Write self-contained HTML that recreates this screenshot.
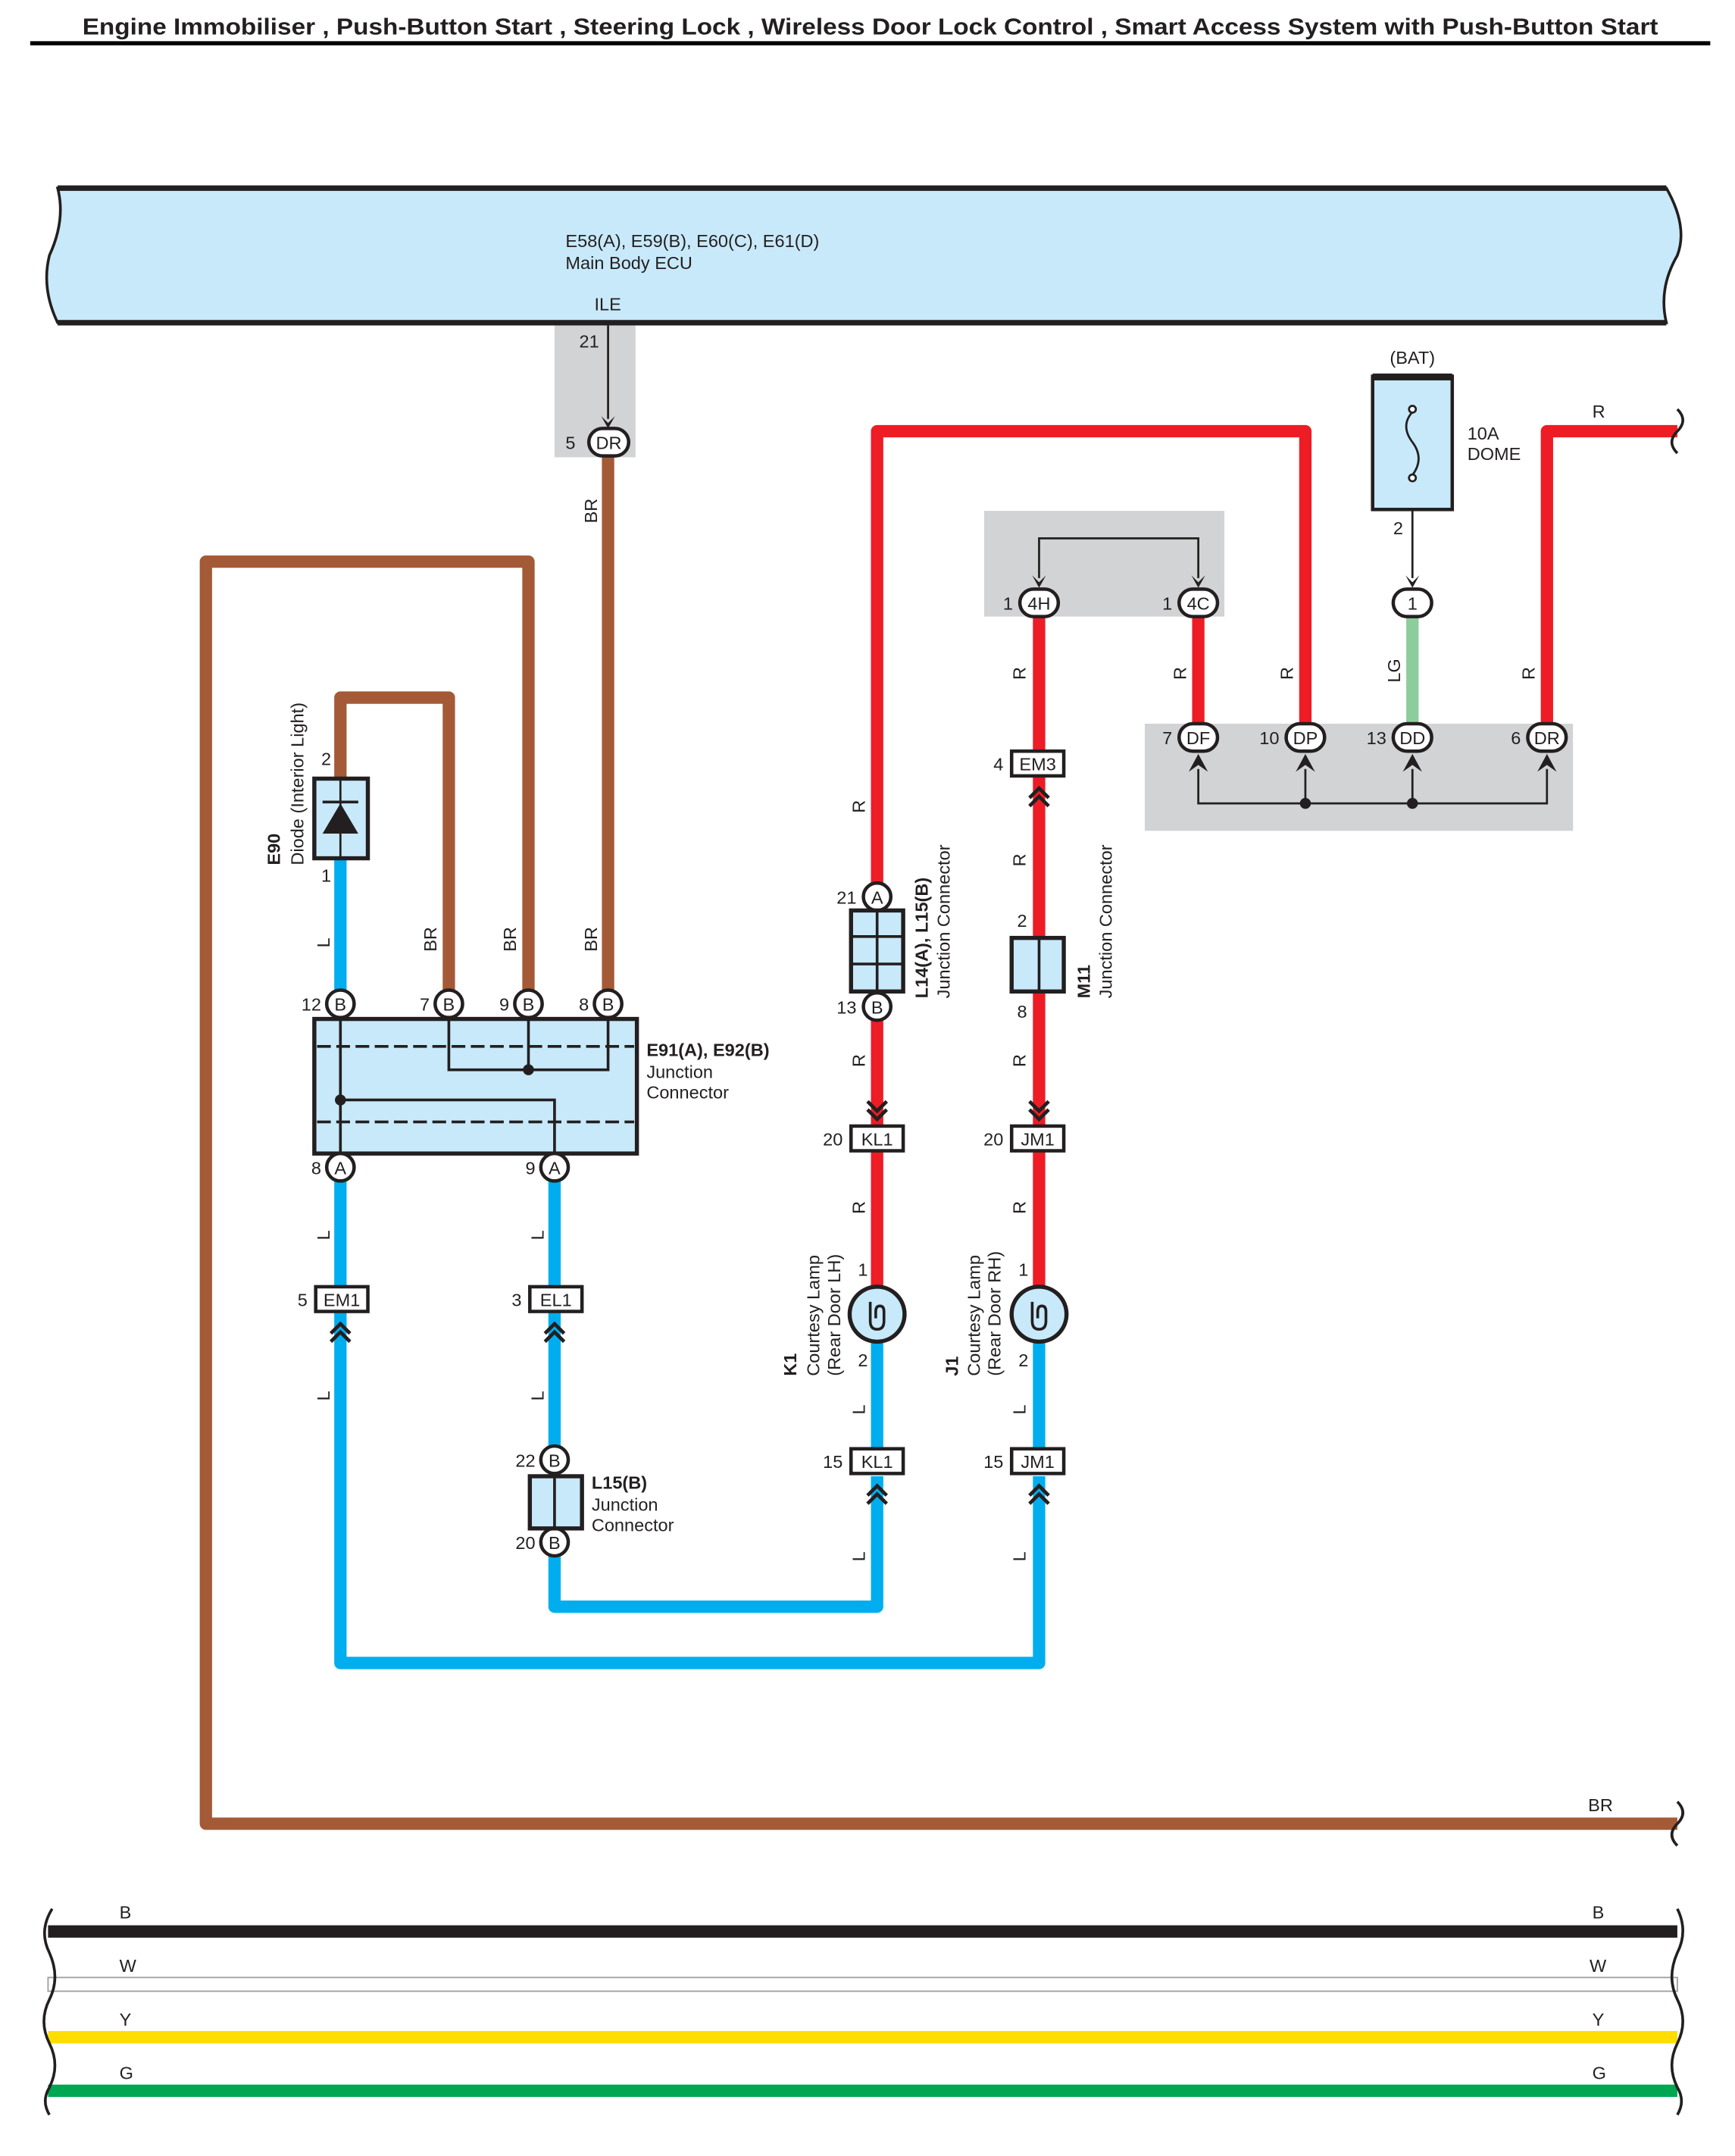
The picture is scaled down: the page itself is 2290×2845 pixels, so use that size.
<!DOCTYPE html>
<html><head><meta charset="utf-8"><style>html,body{margin:0;padding:0;background:#fff}svg{display:block}text{font-family:"Liberation Sans",Arial,sans-serif;fill:#231f20}</style></head>
<body>
<svg width="2290" height="2845" viewBox="0 0 1264 1570" preserveAspectRatio="none" xmlns="http://www.w3.org/2000/svg">
<defs>
<g id="chev"><path d="M-7,-8 L0,-1 L7,-8 M-7,-2 L0,5 L7,-2" fill="none" stroke="#231f20" stroke-width="2.6"/></g>
<g id="chevU"><path d="M-7,8 L0,1 L7,8 M-7,2 L0,-5 L7,2" fill="none" stroke="#231f20" stroke-width="2.6"/></g>
<g id="arr"><path d="M-5,-9 L0,0 L5,-9 L0,-4 Z" fill="#231f20"/></g>
</defs>
<!-- title -->
<text x="634" y="25" font-size="17" font-weight="bold" text-anchor="middle" textLength="1148" lengthAdjust="spacingAndGlyphs">Engine Immobiliser , Push-Button Start , Steering Lock , Wireless Door Lock Control , Smart Access System with Push-Button Start</text>
<rect x="22" y="30" width="1224" height="3" fill="#000"/>

<!-- ECU -->
<path d="M42,137 L1214,137 Q1230,165 1222,186 Q1208,210 1214,235 L42,235 Q30,210 36,186 Q48,160 42,137 Z" fill="#c8e9f9" stroke="#231f20" stroke-width="2"/>
<rect x="42" y="135" width="1172" height="4" fill="#231f20"/>
<rect x="42" y="233" width="1172" height="4" fill="#231f20"/>
<text x="412" y="180" font-size="13">E58(A), E59(B), E60(C), E61(D)</text>
<text x="412" y="196" font-size="13">Main Body ECU</text>
<text x="433" y="226" font-size="13">ILE</text>

<!-- gray regions -->
<rect x="404" y="237" width="59" height="96" fill="#d1d3d4"/>
<rect x="717" y="372" width="175" height="77" fill="#d1d3d4"/>
<rect x="834" y="527" width="312" height="78" fill="#d1d3d4"/>

<!-- brown wires -->
<g fill="none" stroke="#a45a36" stroke-width="9" stroke-linejoin="round">
<path d="M443,330 L443,731"/>
<path d="M385,731 L385,409 L150,409 L150,1328 L1222,1328"/>
<path d="M248,567 L248,508 L327,508 L327,731"/>
</g>
<!-- blue wires -->
<g fill="none" stroke="#00aeef" stroke-width="9" stroke-linejoin="round">
<path d="M248,625 L248,731"/>
<path d="M248,860 L248,1211 L757,1211 L757,1075"/>
<path d="M404,860 L404,1170 L639,1170 L639,1075"/>
<path d="M639,977 L639,1064"/>
<path d="M757,977 L757,1064"/>
</g>
<!-- red wires -->
<g fill="none" stroke="#ee1c25" stroke-width="9" stroke-linejoin="round">
<path d="M639,653 L639,314 L951,314 L951,537"/>
<path d="M639,733 L639,937"/>
<path d="M757,449 L757,937"/>
<path d="M873,449 L873,537"/>
<path d="M1127,537 L1127,314 L1222,314"/>
</g>
<path d="M1029,449 L1029,537" stroke="#8dcc9c" stroke-width="9"/>

<!-- ECU down arrow -->
<line x1="443" y1="237" x2="443" y2="305" stroke="#231f20" stroke-width="1.5"/>
<use href="#arr" x="443" y="312"/>
<text x="422" y="253" font-size="13">21</text>
<rect x="429" y="312" width="29" height="20" rx="10" fill="#fff" stroke="#231f20" stroke-width="2.5"/>
<text x="443.5" y="327" font-size="13" text-anchor="middle">DR</text>
<text x="412" y="327" font-size="13">5</text>

<!-- diode -->
<rect x="229" y="567" width="39" height="58" fill="#c8e9f9" stroke="#231f20" stroke-width="3"/>
<line x1="248" y1="567" x2="248" y2="625" stroke="#231f20" stroke-width="1.5"/>
<path d="M235,607 L261,607 L248,585 Z" fill="#231f20"/>
<line x1="235" y1="584" x2="261" y2="584" stroke="#231f20" stroke-width="2"/>
<text x="234" y="557" font-size="13">2</text>
<text x="234" y="642" font-size="13">1</text>
<text transform="translate(204,630) rotate(-90)" font-size="13" font-weight="bold">E90</text>
<text transform="translate(221,630) rotate(-90)" font-size="13">Diode (Interior Light)</text>

<!-- wire labels rotated -->
<g font-size="13">
<text transform="translate(240,690) rotate(-90)">L</text>
<text transform="translate(318,693) rotate(-90)">BR</text>
<text transform="translate(376,693) rotate(-90)">BR</text>
<text transform="translate(435,693) rotate(-90)">BR</text>
<text transform="translate(435,381) rotate(-90)">BR</text>
<text transform="translate(240,903) rotate(-90)">L</text>
<text transform="translate(240,1020) rotate(-90)">L</text>
<text transform="translate(396,903) rotate(-90)">L</text>
<text transform="translate(396,1020) rotate(-90)">L</text>
<text transform="translate(630,592) rotate(-90)">R</text>
<text transform="translate(630,777) rotate(-90)">R</text>
<text transform="translate(630,884) rotate(-90)">R</text>
<text transform="translate(630,1030) rotate(-90)">L</text>
<text transform="translate(630,1137) rotate(-90)">L</text>
<text transform="translate(747,495) rotate(-90)">R</text>
<text transform="translate(747,631) rotate(-90)">R</text>
<text transform="translate(747,777) rotate(-90)">R</text>
<text transform="translate(747,884) rotate(-90)">R</text>
<text transform="translate(747,1030) rotate(-90)">L</text>
<text transform="translate(747,1137) rotate(-90)">L</text>
<text transform="translate(864,495) rotate(-90)">R</text>
<text transform="translate(942,495) rotate(-90)">R</text>
<text transform="translate(1020,497) rotate(-90)">LG</text>
<text transform="translate(1118,495) rotate(-90)">R</text>
<text x="1160" y="304">R</text>
<text x="1157" y="1319">BR</text>
</g>

<!-- E91 junction -->
<rect x="229" y="742" width="235" height="98" fill="#c8e9f9" stroke="#231f20" stroke-width="3"/>
<g stroke="#231f20" stroke-width="2" fill="none">
<line x1="231" y1="762" x2="462" y2="762" stroke-dasharray="10,4"/>
<line x1="231" y1="817" x2="462" y2="817" stroke-dasharray="10,4"/>
<path d="M248,742 L248,840"/>
<path d="M327,742 L327,779 L443,779 L443,742"/>
<path d="M385,742 L385,779"/>
<path d="M248,801 L404,801 L404,840"/>
</g>
<circle cx="385" cy="779" r="4" fill="#231f20"/>
<circle cx="248" cy="801" r="4" fill="#231f20"/>
<text x="471" y="769" font-size="13" font-weight="bold">E91(A), E92(B)</text>
<text x="471" y="785" font-size="13">Junction</text>
<text x="471" y="800" font-size="13">Connector</text>

<!-- round pins -->
<g stroke="#231f20" stroke-width="2.5" fill="#fff">
<circle cx="248" cy="731" r="10"/><circle cx="327" cy="731" r="10"/><circle cx="385" cy="731" r="10"/><circle cx="443" cy="731" r="10"/>
<circle cx="248" cy="850" r="10"/><circle cx="404" cy="850" r="10"/>
<circle cx="404" cy="1063" r="10"/><circle cx="404" cy="1123" r="10"/>
<circle cx="639" cy="653" r="10"/><circle cx="639" cy="733" r="10"/>
</g>
<g font-size="13" text-anchor="middle">
<text x="248" y="736">B</text><text x="327" y="736">B</text><text x="385" y="736">B</text><text x="443" y="736">B</text>
<text x="248" y="855">A</text><text x="404" y="855">A</text>
<text x="404" y="1068">B</text><text x="404" y="1128">B</text>
<text x="639" y="658">A</text><text x="639" y="738">B</text>
</g>
<g font-size="13" text-anchor="end">
<text x="234" y="736">12</text><text x="313" y="736">7</text><text x="371" y="736">9</text><text x="429" y="736">8</text>
<text x="234" y="855">8</text><text x="390" y="855">9</text>
<text x="390" y="1068">22</text><text x="390" y="1128">20</text>
<text x="624" y="658">21</text><text x="624" y="738">13</text>
</g>

<!-- L15(B) box -->
<rect x="386" y="1075" width="38" height="38" fill="#c8e9f9" stroke="#231f20" stroke-width="3"/>
<line x1="404" y1="1075" x2="404" y2="1113" stroke="#231f20" stroke-width="2"/>
<text x="431" y="1084" font-size="13" font-weight="bold">L15(B)</text>
<text x="431" y="1100" font-size="13">Junction</text>
<text x="431" y="1115" font-size="13">Connector</text>

<!-- L14 box -->
<rect x="620" y="663" width="38" height="59" fill="#c8e9f9" stroke="#231f20" stroke-width="3"/>
<g stroke="#231f20" stroke-width="2"><line x1="639" y1="663" x2="639" y2="722"/><line x1="620" y1="682" x2="658" y2="682"/><line x1="620" y1="702" x2="658" y2="702"/></g>
<text transform="translate(676,727) rotate(-90)" font-size="13" font-weight="bold">L14(A), L15(B)</text>
<text transform="translate(692,727) rotate(-90)" font-size="13">Junction Connector</text>

<!-- M11 box -->
<rect x="737" y="683" width="38" height="39" fill="#c8e9f9" stroke="#231f20" stroke-width="3"/>
<line x1="757" y1="683" x2="757" y2="722" stroke="#231f20" stroke-width="2"/>
<text x="741" y="675" font-size="13">2</text>
<text x="741" y="741" font-size="13">8</text>
<text transform="translate(794,727) rotate(-90)" font-size="13" font-weight="bold">M11</text>
<text transform="translate(810,727) rotate(-90)" font-size="13">Junction Connector</text>

<!-- rectangular connectors -->
<g stroke="#231f20" stroke-width="2.5" fill="#fff">
<rect x="230" y="937" width="38" height="18"/>
<rect x="386" y="937" width="38" height="18"/>
<rect x="620" y="820" width="38" height="18"/>
<rect x="737" y="820" width="38" height="18"/>
<rect x="620" y="1055" width="38" height="18"/>
<rect x="737" y="1055" width="38" height="18"/>
<rect x="737" y="547" width="38" height="18"/>
</g>
<g font-size="13" text-anchor="middle">
<text x="249" y="951">EM1</text><text x="405" y="951">EL1</text>
<text x="639" y="834">KL1</text><text x="756" y="834">JM1</text>
<text x="639" y="1069">KL1</text><text x="756" y="1069">JM1</text>
<text x="756" y="561">EM3</text>
</g>
<g font-size="13" text-anchor="end">
<text x="224" y="951">5</text><text x="380" y="951">3</text>
<text x="614" y="834">20</text><text x="731" y="834">20</text>
<text x="614" y="1069">15</text><text x="731" y="1069">15</text>
<text x="731" y="561">4</text>
</g>
<use href="#chevU" x="248" y="969"/>
<use href="#chevU" x="404" y="969"/>
<use href="#chevU" x="639" y="1087"/>
<use href="#chevU" x="757" y="1087"/>
<use href="#chevU" x="757" y="579"/>
<use href="#chev" x="639" y="810"/>
<use href="#chev" x="757" y="810"/>

<!-- lamps -->
<g stroke="#231f20" stroke-width="3" fill="#c8e9f9"><circle cx="639" cy="957" r="20"/><circle cx="757" cy="957" r="20"/></g>
<g stroke="#231f20" stroke-width="2" fill="none">
<path d="M634,948 L634,962 Q634,968 639,968 Q644,968 644,962 L644,955 Q644,951 641,951 Q638,951 638,955 L638,960"/>
<path d="M752,948 L752,962 Q752,968 757,968 Q762,968 762,962 L762,955 Q762,951 759,951 Q756,951 756,955 L756,960"/>
</g>
<text x="625" y="929" font-size="13">1</text><text x="625" y="995" font-size="13">2</text>
<text x="742" y="929" font-size="13">1</text><text x="742" y="995" font-size="13">2</text>
<text transform="translate(580,1002) rotate(-90)" font-size="13" font-weight="bold">K1</text>
<text transform="translate(597,1002) rotate(-90)" font-size="13">Courtesy Lamp</text>
<text transform="translate(612,1002) rotate(-90)" font-size="13">(Rear Door LH)</text>
<text transform="translate(698,1002) rotate(-90)" font-size="13" font-weight="bold">J1</text>
<text transform="translate(714,1002) rotate(-90)" font-size="13">Courtesy Lamp</text>
<text transform="translate(729,1002) rotate(-90)" font-size="13">(Rear Door RH)</text>

<!-- 4H/4C bracket -->
<path d="M757,421 L757,392 L873,392 L873,421" fill="none" stroke="#231f20" stroke-width="1.5"/>
<use href="#arr" x="757" y="428"/><use href="#arr" x="873" y="428"/>
<!-- fuse -->
<rect x="1000" y="274" width="58" height="97" fill="#c8e9f9" stroke="#231f20" stroke-width="2.5"/>
<rect x="1000" y="272" width="58" height="5" fill="#231f20"/>
<path d="M1029,300 Q1020,310 1029,322 Q1038,334 1029,346" fill="none" stroke="#231f20" stroke-width="1.5"/>
<circle cx="1029" cy="298" r="2.5" fill="#fff" stroke="#231f20" stroke-width="1.5"/>
<circle cx="1029" cy="348" r="2.5" fill="#fff" stroke="#231f20" stroke-width="1.5"/>
<line x1="1029" y1="371" x2="1029" y2="421" stroke="#231f20" stroke-width="1.5"/>
<use href="#arr" x="1029" y="428"/>
<text x="1029" y="265" font-size="13" text-anchor="middle">(BAT)</text>
<text x="1069" y="320" font-size="13">10A</text>
<text x="1069" y="335" font-size="13">DOME</text>
<text x="1015" y="389" font-size="13">2</text>

<!-- oval pins -->
<g stroke="#231f20" stroke-width="2.5" fill="#fff">
<rect x="743" y="429" width="28" height="20" rx="10"/>
<rect x="859" y="429" width="28" height="20" rx="10"/>
<rect x="1015" y="429" width="28" height="20" rx="10"/>
<rect x="859" y="527" width="28" height="20" rx="10"/>
<rect x="937" y="527" width="28" height="20" rx="10"/>
<rect x="1015" y="527" width="28" height="20" rx="10"/>
<rect x="1113" y="527" width="28" height="20" rx="10"/>
</g>
<g font-size="13" text-anchor="middle">
<text x="757" y="444">4H</text><text x="873" y="444">4C</text><text x="1029" y="444">1</text>
<text x="873" y="542">DF</text><text x="951" y="542">DP</text><text x="1029" y="542">DD</text><text x="1127" y="542">DR</text>
</g>
<g font-size="13" text-anchor="end">
<text x="738" y="444">1</text><text x="854" y="444">1</text>
<text x="854" y="542">7</text><text x="932" y="542">10</text><text x="1010" y="542">13</text><text x="1108" y="542">6</text>
</g>
<!-- DR bus bottom -->
<path d="M873,560 L873,585 L1127,585 L1127,560 M951,560 L951,585 M1029,560 L1029,585" fill="none" stroke="#231f20" stroke-width="1.5"/>
<g fill="#231f20">
<path d="M866,562 L873,549 L880,562 L873,557 Z"/><path d="M944,562 L951,549 L958,562 L951,557 Z"/>
<path d="M1022,562 L1029,549 L1036,562 L1029,557 Z"/><path d="M1120,562 L1127,549 L1134,562 L1127,557 Z"/>
</g>
<circle cx="951" cy="585" r="4" fill="#231f20"/><circle cx="1029" cy="585" r="4" fill="#231f20"/>

<!-- wavy ends -->
<g fill="none" stroke="#231f20" stroke-width="2">
<path d="M1222,298 Q1230,306 1222,314 Q1214,322 1222,330"/>
<path d="M1222,1312 Q1230,1320 1222,1328 Q1214,1336 1222,1344"/>
</g>

<!-- bottom bus -->
<rect x="35" y="1402" width="1187" height="9" fill="#231f20"/>
<rect x="35" y="1440" width="1187" height="10" fill="#fff" stroke="#9d9fa2" stroke-width="1"/>
<rect x="35" y="1479" width="1187" height="9" fill="#ffdd00"/>
<rect x="35" y="1518" width="1187" height="9" fill="#00a651"/>
<g fill="none" stroke="#231f20" stroke-width="2">
<path d="M38,1390 Q28,1406 36,1422 Q44,1440 36,1456 Q28,1472 36,1488 Q44,1504 36,1520 Q30,1530 36,1540"/>
<path d="M1222,1390 Q1230,1406 1222,1422 Q1214,1440 1222,1456 Q1230,1472 1222,1488 Q1214,1504 1222,1520 Q1228,1530 1222,1540"/>
</g>
<g font-size="13">
<text x="87" y="1397">B</text><text x="87" y="1436">W</text><text x="87" y="1475">Y</text><text x="87" y="1514">G</text>
<text x="1160" y="1397">B</text><text x="1158" y="1436">W</text><text x="1160" y="1475">Y</text><text x="1160" y="1514">G</text>
</g>
</svg>
</body></html>
